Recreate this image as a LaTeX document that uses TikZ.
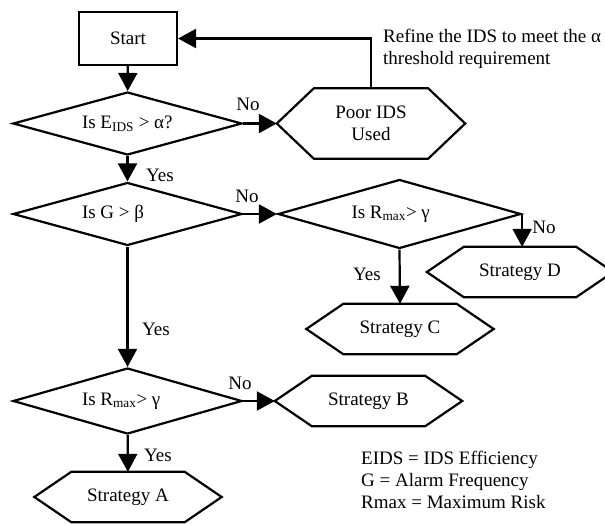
\documentclass[tikz,border=0pt]{standalone}
\usepackage{fontspec}
\setmainfont{Liberation Serif}
\usetikzlibrary{arrows.meta,shapes.geometric}
\newcommand\hexdraw[2]{\draw[shapeline] (#1.west) -- ([xshift=#2]#1.north west) -- ([xshift=-#2]#1.north east) -- (#1.east) -- ([xshift=-#2]#1.south east) -- ([xshift=#2]#1.south west) -- cycle;}
\newcommand\lefttext[2]{\makebox[#1][l]{#2}}
\tikzset{
  shapeline/.style={line width=2.2pt, line join=miter, black},
  startbox/.style={draw, shapeline, rectangle, minimum width=98pt, minimum height=53pt, inner sep=0pt},
  decbox/.style={draw, shapeline, diamond, aspect=3.6, inner sep=0pt},
  hexbox/.style={rectangle, draw=none, minimum width=187pt, minimum height=50pt, inner sep=0pt, align=center},
  lbl/.style={inner sep=0pt},
  conn/.style={shapeline, -{Triangle[length=18pt,width=19pt]}}
}
\begin{document}
\begin{tikzpicture}[x=1pt,y=-1pt, font=\fontsize{19}{22}\selectfont]
\useasboundingbox (0,0) rectangle (605,523);
\clip (0,0) rectangle (605,523);
\fill[white] (0,0) rectangle (605,523);

\node[startbox] (start) at (128,38.5) {Start};
\node[decbox, minimum width=229pt, minimum height=63pt] (d1) at (127.5,123.5) {\lefttext{91pt}{Is E\textsubscript{IDS} > α?}};
\node[decbox, minimum width=229pt, minimum height=63pt] (d2) at (127.5,214) {\lefttext{91pt}{Is G > β}};
\node[decbox, minimum width=229pt, minimum height=66pt] (d3) at (127.5,401) {\lefttext{91pt}{Is R\textsubscript{max}> γ}};
\node[decbox, minimum width=243pt, minimum height=69pt] (d4) at (399.5,214) {\lefttext{96pt}{Is R\textsubscript{max}> γ}};

\node[hexbox, minimum width=188pt, minimum height=70pt] (poor) at (371,123.5) {Poor IDS\\Used};
\node[hexbox] (sa) at (128,497) {Strategy A};
\node[hexbox] (sb) at (368.5,401) {Strategy B};
\node[hexbox] (sc) at (400,329) {Strategy C};
\node[hexbox, minimum width=186pt] (sd) at (520,272) {Strategy D};
\foreach \n in {poor,sa,sb,sc,sd} {\hexdraw{\n}{37pt}}

\draw[conn] (start) -- (d1);
\draw[conn] (d1) -- (poor);
\draw[conn] (poor.north) |- (start.east);
\draw[conn] (d1) -- (d2);
\draw[conn] (d2) -- (d4);
\draw[conn] (d2) -- (d3);
\draw[conn] (d3) -- (sb);
\draw[conn] (d3) -- (sa);
\draw[conn] (d4.south) -- (sc.north);
\draw[conn] (d4.east) -- (d4.east |- sd.north);

\node[lbl] (l1) at (248,104) {No};
\node[lbl] (l2) at (160,175) {Yes};
\node[lbl] (l3) at (247,196) {No};
\node[lbl] (l4) at (156,329) {Yes};
\node[lbl] (l5) at (240,383) {No};
\node[lbl] (l6) at (158,455) {Yes};
\node[lbl] (l7) at (544,227) {No};
\node[lbl] (l8) at (367,274) {Yes};

\node[lbl, anchor=west, align=left] (refine) at (383,49) {Refine the IDS to meet the α\\threshold requirement};
\node[lbl, anchor=west, align=left] (legend) at (361,480) {EIDS = IDS Efficiency\\G = Alarm Frequency\\Rmax = Maximum Risk};
\end{tikzpicture}
\end{document}
